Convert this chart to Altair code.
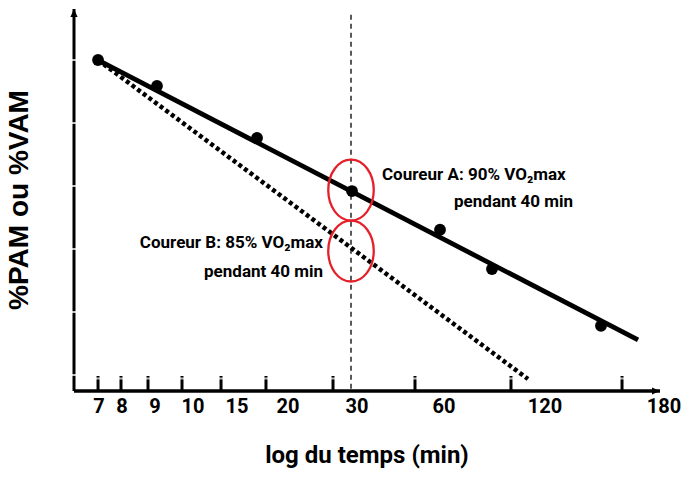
import altair as alt
import pandas as pd

# ---- data (x in schematic "log du temps" axis units 0-100, y in % units) ----
tick_labels = ["7", "8", "9", "10", "15", "20", "30", "60", "120", "180"]
tick_label_pos = [4.27, 8.19, 13.82, 20.31, 27.82, 36.52, 48.29, 63.14, 80.38, 100.68]
tick_mark_pos = [4.10, 8.02, 12.63, 18.43, 25.09, 32.76, 44.20, 58.19, 74.57, 93.52]

point_x = [4.10, 14.16, 31.23, 47.44, 62.46, 71.33, 89.93]
point_y = [100.0, 97.94, 93.81, 89.60, 86.53, 83.41, 78.91]

lineA_x = [4.10, 96.25]
lineA_y = [100.0, 77.78]
lineB_x = [4.10, 77.47]
lineB_y = [100.0, 74.68]

y_ticks = [100, 95, 90, 85, 80, 75]
ref_x = 47.27
circle_y = [89.68, 84.84]

annot_text = ["Coureur A: 90% VO₂max", "pendant 40 min",
              "Coureur B: 85% VO₂max", "pendant 40 min"]
annot_x = [52.56, 85.15, 42.49, 42.49]
annot_y = [90.87, 88.73, 85.48, 83.17]
annot_align = ["left", "right", "right", "right"]

X_DOM = [0, 100]
Y_DOM = [73.73, 104.05]

FONT_N = "Roboto, sans-serif"
FONT_B = "Liberation Sans, Arial, sans-serif"

xs = alt.Scale(domain=X_DOM, nice=False, zero=False)
ys = alt.Scale(domain=Y_DOM, nice=False, zero=False)

def X(f="x"):
    return alt.X(f + ":Q", scale=xs, axis=None)

def Y(f="y"):
    return alt.Y(f + ":Q", scale=ys, axis=None)

pts = pd.DataFrame({"x": point_x, "y": point_y})
la = pd.DataFrame({"x": lineA_x, "y": lineA_y})
lb = pd.DataFrame({"x": lineB_x, "y": lineB_y})
ticks = pd.DataFrame({"x": tick_mark_pos})
labels = pd.DataFrame({"x": tick_label_pos, "t": tick_labels})
yt = pd.DataFrame({"y": y_ticks})
circ = pd.DataFrame({"x": [ref_x] * len(circle_y), "y": circle_y})
ann = pd.DataFrame({"x": annot_x, "y": annot_y, "t": annot_text, "a": annot_align})
ann_l = ann[ann["a"] == "left"]
ann_r = ann[ann["a"] == "right"]
ref = pd.DataFrame({"x": [ref_x], "y": [103.6], "y2": [Y_DOM[0]]})
axes_y = pd.DataFrame({"x": [X_DOM[0]], "y": [Y_DOM[0]], "y2": [Y_DOM[1]]})
axes_x = pd.DataFrame({"x": [X_DOM[0]], "x2": [X_DOM[1]], "y": [Y_DOM[0]]})

ref_line = alt.Chart(ref).mark_rule(color="black", strokeWidth=1.3, strokeDash=[5, 4]).encode(
    x=X(), y=Y(), y2="y2:Q")

line_a = alt.Chart(la).mark_line(color="black", strokeWidth=4.8).encode(x=X(), y=Y())
line_b = alt.Chart(lb).mark_line(color="black", strokeWidth=4.5, strokeDash=[4, 3]).encode(x=X(), y=Y())
points = alt.Chart(pts).mark_circle(color="black", size=140, opacity=1).encode(x=X(), y=Y())

ellipse = alt.Chart(circ).mark_point(
    shape="M-1,0A1,1.34,0,1,1,1,0A1,1.34,0,1,1,-1,0Z",
    size=2070, filled=False, stroke="#e4202a", strokeWidth=2.3, opacity=1
).encode(x=X(), y=Y())

y_axis = alt.Chart(axes_y).mark_rule(color="black", strokeWidth=3).encode(x=X(), y=Y(), y2="y2:Q")
x_axis = alt.Chart(axes_x).mark_rule(color="black", strokeWidth=3.5).encode(x=X(), x2="x2:Q", y=Y())

arrow_x = alt.Chart(pd.DataFrame({"x": [X_DOM[1]], "y": [Y_DOM[0]]})).mark_point(
    shape="M-2,-0.9L0,0L-2,0.9Z", size=64, filled=True, color="black", opacity=1
).encode(x=X(), y=Y())
arrow_y = alt.Chart(pd.DataFrame({"x": [X_DOM[0]], "y": [Y_DOM[1]]})).mark_point(
    shape="M-0.9,2L0,0L0.9,2Z", size=64, filled=True, color="black", opacity=1
).encode(x=X(), y=Y())

y_gaps = alt.Chart(yt).mark_rule(color="white", strokeWidth=1.5).encode(
    y=Y(), x=alt.value(-3), x2=alt.value(3))

x_ticks = alt.Chart(ticks).mark_rule(color="black", strokeWidth=3).encode(
    x=X(), y=alt.value(367), y2=alt.value(381))
x_notch = alt.Chart(ticks).mark_tick(color="white", thickness=2, size=5, orient="horizontal").encode(
    x=X(), y=alt.value(369.5))

tick_text = alt.Chart(labels).mark_text(
    font=FONT_N, fontSize=20, fontWeight="bold", color="black", baseline="middle"
).encode(x=X(), y=alt.value(398), text="t:N")

ann_text_l = alt.Chart(ann_l).mark_text(
    font=FONT_N, fontSize=17, fontWeight="bold", color="black", baseline="middle", align="left"
).encode(x=X(), y=Y(), text="t:N")
ann_text_r = alt.Chart(ann_r).mark_text(
    font=FONT_N, fontSize=17, fontWeight="bold", color="black", baseline="middle", align="right"
).encode(x=X(), y=Y(), text="t:N")

x_title = alt.Chart(pd.DataFrame({"t": ["log du temps (min)"]})).mark_text(
    font=FONT_N, fontSize=24, fontWeight="bold", color="black", baseline="middle"
).encode(x=alt.value(293), y=alt.value(447), text="t:N")

y_title = alt.Chart(pd.DataFrame({"t": ["%PAM ou %VAM"]})).mark_text(
    font=FONT_B, fontSize=28, fontWeight="bold", color="black", baseline="middle", angle=270
).encode(x=alt.value(-54), y=alt.value(191), text="t:N")

chart = alt.layer(
    ref_line, line_b, line_a, points, ellipse, y_axis, x_axis, arrow_x, arrow_y,
    y_gaps, x_ticks, x_notch, tick_text, ann_text_l, ann_text_r, x_title, y_title
).properties(
    width=586, height=382,
    autosize=alt.AutoSizeParams(type="none"),
    padding={"left": 74, "top": 9, "right": 30, "bottom": 103},
    background="white",
).configure_view(stroke=None)

chart.save("out.html", embed_options={"renderer": "svg", "actions": False})
